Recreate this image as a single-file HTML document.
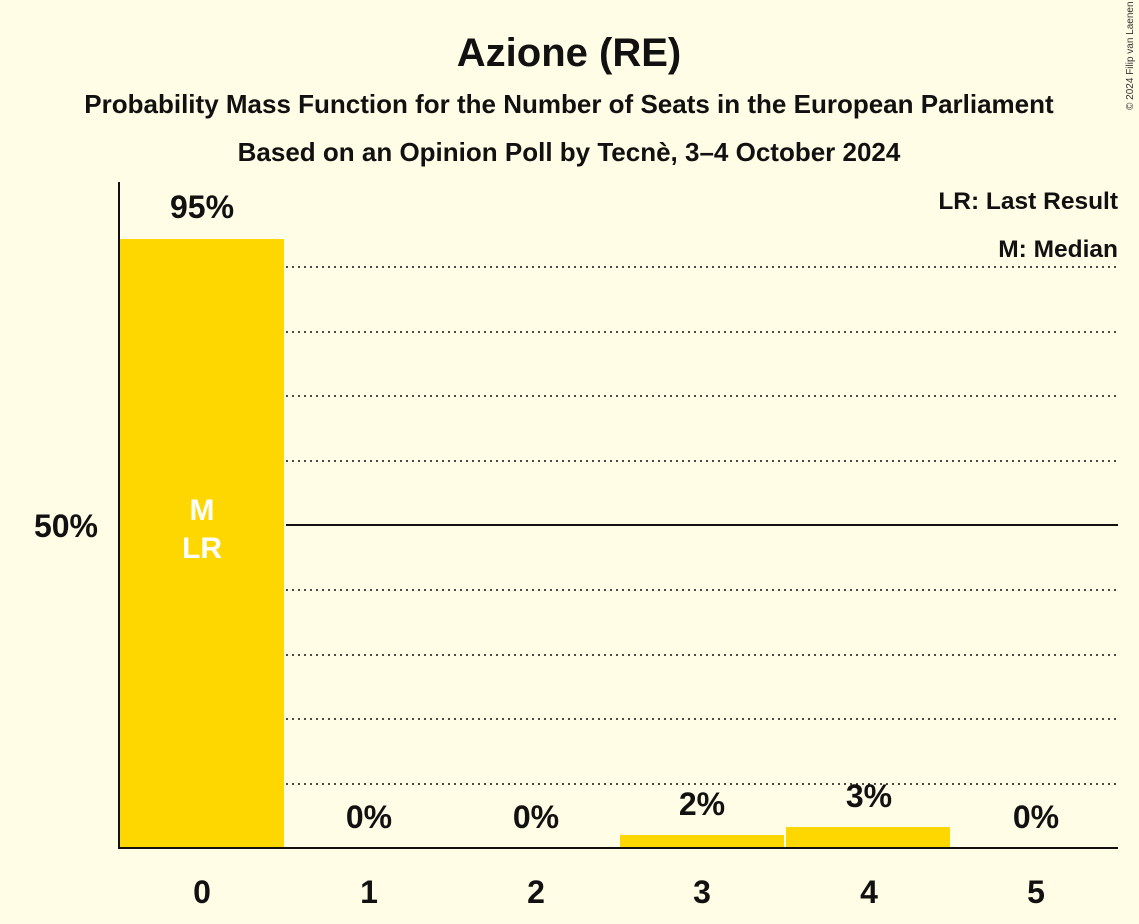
<!DOCTYPE html>
<html><head><meta charset="utf-8"><style>
body{margin:0;background:#fffde6;}
svg{display:block;font-family:"Liberation Sans",sans-serif;font-weight:bold;}
</style></head><body>
<svg width="1139" height="924" viewBox="0 0 1139 924">
<rect width="1139" height="924" fill="#fffde6"/>
<text x="569" y="66" text-anchor="middle" font-size="40" fill="#111">Azione (RE)</text>
<text x="569" y="113" text-anchor="middle" font-size="26" fill="#111">Probability Mass Function for the Number of Seats in the European Parliament</text>
<text x="569" y="161" text-anchor="middle" font-size="26" fill="#111">Based on an Opinion Poll by Tecnè, 3–4 October 2024</text>
<text x="1133" y="110" font-size="10" font-weight="normal" fill="#333" transform="rotate(-90 1133 110)">© 2024 Filip van Laenen</text>
<g stroke="#111" stroke-width="1.5" stroke-dasharray="2,4">
<line x1="286" x2="1118" y1="784" y2="784"/><line x1="286" x2="1118" y1="719" y2="719"/>
<line x1="286" x2="1118" y1="655" y2="655"/><line x1="286" x2="1118" y1="590" y2="590"/>
<line x1="286" x2="1118" y1="461" y2="461"/><line x1="286" x2="1118" y1="396" y2="396"/>
<line x1="286" x2="1118" y1="332" y2="332"/><line x1="286" x2="1118" y1="267" y2="267"/>
</g>
<line x1="286" x2="1118" y1="525" y2="525" stroke="#111" stroke-width="2"/>
<rect x="120" y="239" width="164" height="609" fill="#ffd700"/>
<rect x="620" y="835" width="164" height="13" fill="#ffd700"/>
<rect x="786" y="827" width="164" height="21" fill="#ffd700"/>
<line x1="119" y1="182" x2="119" y2="849" stroke="#111" stroke-width="2"/>
<line x1="118" y1="848" x2="1118" y2="848" stroke="#111" stroke-width="2"/>
<text x="98" y="537" text-anchor="end" font-size="32" fill="#111">50%</text>
<g font-size="32" text-anchor="middle" fill="#111">
<text x="202" y="218">95%</text><text x="369" y="828">0%</text><text x="536" y="828">0%</text>
<text x="702" y="815">2%</text><text x="869" y="807">3%</text><text x="1036" y="828">0%</text>
<text x="202" y="903">0</text><text x="369" y="903">1</text><text x="536" y="903">2</text>
<text x="702" y="903">3</text><text x="869" y="903">4</text><text x="1036" y="903">5</text>
</g>
<text x="202" y="520" text-anchor="middle" font-size="30" fill="#fff">M</text>
<text x="202" y="558" text-anchor="middle" font-size="30" fill="#fff">LR</text>
<text x="1118" y="209" text-anchor="end" font-size="24.5" fill="#111">LR: Last Result</text>
<text x="1118" y="257" text-anchor="end" font-size="24.5" fill="#111">M: Median</text>
</svg>
</body></html>
